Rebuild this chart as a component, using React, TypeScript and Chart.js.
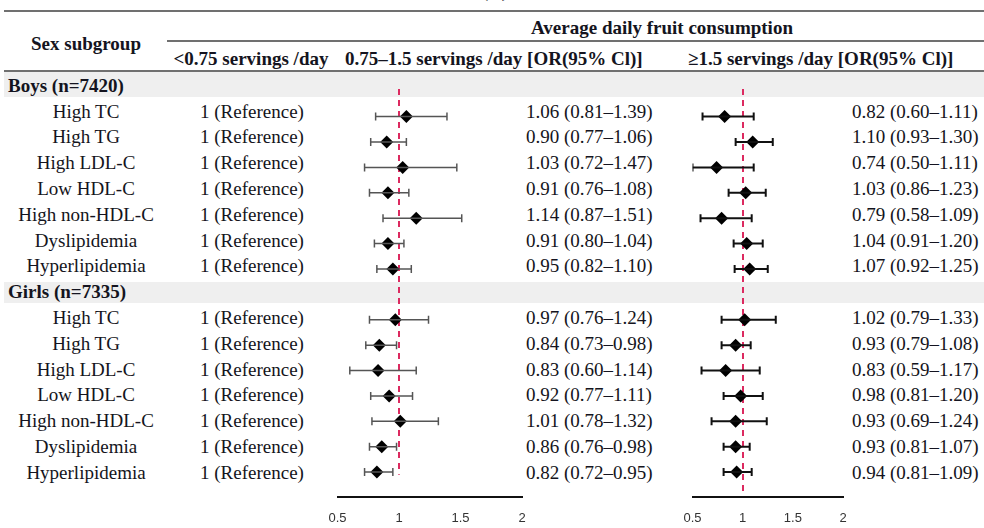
import React, { useEffect, useRef } from "react";
import { Chart, registerables } from "chart.js";
Chart.register(...registerables);

// ---------- data ----------
const subgroups = ["High TC", "High TG", "High LDL-C", "Low HDL-C", "High non-HDL-C", "Dyslipidemia", "Hyperlipidemia"];
const groups = ["Boys (n=7420)", "Girls (n=7335)"];
const columnHeaders = ["<0.75 servings /day", "0.75–1.5 servings /day [OR(95% Cl)]", "≥1.5 servings /day [OR(95% Cl)]"];
const referenceText = "1 (Reference)";
const tickValues = [0.5, 1, 1.5, 2];
const tickLabels = ["0.5", "1", "1.5", "2"];

// 0.75–1.5 servings/day
const boysMidOR = [1.06, 0.90, 1.03, 0.91, 1.14, 0.91, 0.95];
const boysMidLo = [0.81, 0.77, 0.72, 0.76, 0.87, 0.80, 0.82];
const boysMidHi = [1.39, 1.06, 1.47, 1.08, 1.51, 1.04, 1.10];
const girlsMidOR = [0.97, 0.84, 0.83, 0.92, 1.01, 0.86, 0.82];
const girlsMidLo = [0.76, 0.73, 0.60, 0.77, 0.78, 0.76, 0.72];
const girlsMidHi = [1.24, 0.98, 1.14, 1.11, 1.32, 0.98, 0.95];

// >=1.5 servings/day
const boysHighOR = [0.82, 1.10, 0.74, 1.03, 0.79, 1.04, 1.07];
const boysHighLo = [0.60, 0.93, 0.50, 0.86, 0.58, 0.91, 0.92];
const boysHighHi = [1.11, 1.30, 1.11, 1.23, 1.09, 1.20, 1.25];
const girlsHighOR = [1.02, 0.93, 0.83, 0.98, 0.93, 0.93, 0.94];
const girlsHighLo = [0.79, 0.79, 0.59, 0.81, 0.69, 0.81, 0.81];
const girlsHighHi = [1.33, 1.08, 1.17, 1.20, 1.24, 1.07, 1.09];

// ---------- layout ----------
const SERIF = '"Liberation Serif", "Times New Roman", serif';
const SANS = '"Liberation Sans", Arial, sans-serif';
const TEXT = "#141420";
const ROW0 = 84.9;
const ROWH = 25.79;
const PANEL_TOP = 72;
const PANEL_H = 456;
const rowY = (i: number) => ROW0 + ROWH * i;
const boysRows = [1, 2, 3, 4, 5, 6, 7];
const girlsRows = [9, 10, 11, 12, 13, 14, 15];
const fmt = (o: number, l: number, h: number) => `${o.toFixed(2)} (${l.toFixed(2)}–${h.toFixed(2)})`;

type PanelProps = {
  left: number;
  width: number;
  padL: number;
  padR: number;
  or: number[];
  lo: number[];
  hi: number[];
  whiskerColor: string;
  whiskerWidth: number;
  refTop: number;
  refBottom: number;
};

// dashed reference line at OR = 1, positioned via the chart's own scales
function drawRefLine(chart: any, top: number, bottom: number) {
  const { ctx, scales } = chart;
  const x = Math.round(scales.x.getPixelForValue(1));
  const y1 = Math.round(scales.y.getPixelForValue(top));
  const y2 = scales.y.getPixelForValue(bottom);
  ctx.save();
  ctx.fillStyle = "#dc2a60";
  const dash = 6;
  const gap = 5;
  for (let y = y1; y < y2; y += dash + gap) {
    const h = Math.min(dash, y2 - y);
    ctx.fillRect(x - 1, y, 2, h);
  }
  ctx.restore();
}

function Panel(p: PanelProps) {
  const ref = useRef<HTMLCanvasElement>(null);
  useEffect(() => {
    const rows = [...boysRows, ...girlsRows];
    const whiskers: any[] = rows.map((r, i) => ({
      type: "line",
      data: [
        { x: p.lo[i], y: r },
        { x: p.hi[i], y: r },
      ],
      borderColor: p.whiskerColor,
      borderWidth: p.whiskerWidth,
      pointStyle: "line",
      pointRotation: 90,
      pointRadius: 4,
      pointBorderColor: p.whiskerColor,
      pointBorderWidth: p.whiskerWidth,
      pointBackgroundColor: p.whiskerColor,
      showLine: true,
    }));
    const diamonds = {
      type: "scatter",
      data: rows.map((r, i) => ({ x: p.or[i], y: r })),
      pointStyle: "rectRot",
      pointRadius: 6.5,
      backgroundColor: "#000",
      borderColor: "#000",
      borderWidth: 0,
    };
    const chart = new Chart(ref.current as HTMLCanvasElement, {
      type: "scatter",
      data: { datasets: [...whiskers, diamonds] },
      plugins: [
        {
          id: "refLineBelowDiamonds",
          beforeDatasetDraw(c: any, args: any) {
            if (args.index === whiskers.length) drawRefLine(c, p.refTop, p.refBottom);
          },
        },
      ],
      options: {
        animation: false,
        responsive: false,
        events: [],
        plugins: { legend: { display: false }, tooltip: { enabled: false } },
        layout: { padding: { left: p.padL, right: p.padR, top: 0, bottom: 0 } },
        scales: {
          x: {
            type: "linear",
            position: "bottom",
            min: 0.5,
            max: 2,
            afterBuildTicks: (s: any) => {
              s.ticks = tickValues.map((v) => ({ value: v }));
            },
            grid: { display: false, drawTicks: false },
            border: { display: true, color: "#111", width: 2 },
            ticks: {
              font: { family: SANS, size: 13 },
              color: "#333",
              padding: 14,
              maxRotation: 0,
              autoSkip: false,
              callback: (v: number) => {
                const k = tickValues.indexOf(v);
                return k >= 0 ? tickLabels[k] : "";
              },
            },
            afterFit: (s: any) => {
              s.height = 31;
              s.paddingLeft = 0;
              s.paddingRight = 0;
            },
          },
          y: { type: "linear", min: -0.5, max: 15.98, reverse: true, display: false },
        },
      } as any,
    });
    return () => chart.destroy();
  }, []);
  return (
    <canvas
      ref={ref}
      width={p.width}
      height={PANEL_H}
      style={{ position: "absolute", left: p.left, top: PANEL_TOP, width: p.width, height: PANEL_H }}
    />
  );
}

function T(props: { x: number; y: number; text: string; align?: "left" | "center"; bold?: boolean }) {
  const { x, y, text, align = "left", bold = false } = props;
  return (
    <div
      style={{
        position: "absolute",
        left: x,
        top: y,
        transform: align === "center" ? "translate(-50%, -50%)" : "translate(0, -50%)",
        fontFamily: SERIF,
        fontSize: 19,
        lineHeight: 1,
        fontWeight: bold ? "bold" : "normal",
        whiteSpace: "nowrap",
        color: TEXT,
      }}
    >
      {text}
    </div>
  );
}

function HLine(props: { x1: number; x2: number; y: number }) {
  return (
    <div
      style={{
        position: "absolute",
        left: props.x1,
        top: props.y,
        width: props.x2 - props.x1,
        height: 2,
        background: "#707070",
      }}
    />
  );
}

export default function App() {
  const blocks = [
    { rows: boysRows, mOR: boysMidOR, mLo: boysMidLo, mHi: boysMidHi, hOR: boysHighOR, hLo: boysHighLo, hHi: boysHighHi },
    { rows: girlsRows, mOR: girlsMidOR, mLo: girlsMidLo, mHi: girlsMidHi, hOR: girlsHighOR, hLo: girlsHighLo, hHi: girlsHighHi },
  ];
  return (
    <div
      style={{
        position: "fixed",
        left: 0,
        top: 0,
        width: 984,
        height: 528,
        background: "#fff",
        overflow: "hidden",
      }}
    >
      {/* panel title, cut at the top edge */}
      <div
        style={{
          position: "absolute",
          left: 495,
          top: -19,
          transform: "translateX(-50%)",
          fontFamily: SERIF,
          fontSize: 19,
          lineHeight: 1,
          fontWeight: "bold",
          color: TEXT,
        }}
      >
        (A)
      </div>
      <HLine x1={4} x2={984} y={10} />
      <HLine x1={167} x2={984} y={40} />
      <HLine x1={4} x2={984} y={70} />
      {/* group bands */}
      <div style={{ position: "absolute", left: 4, top: 72, width: 980, height: 25, background: "#efefef" }} />
      <div style={{ position: "absolute", left: 4, top: 281.5, width: 980, height: 21.5, background: "#efefef" }} />

      <T x={86} y={43} text="Sex subgroup" align="center" bold />
      <T x={662} y={27} text="Average daily fruit consumption" align="center" bold />
      <T x={251} y={58} text={columnHeaders[0]} align="center" bold />
      <T x={345} y={58} text={columnHeaders[1]} bold />
      <T x={688} y={58} text={columnHeaders[2]} bold />

      {blocks.map((b, bi) => (
        <React.Fragment key={bi}>
          <T x={8} y={rowY(b.rows[0] - 1)} text={groups[bi]} bold />
          {subgroups.map((s, i) => (
            <React.Fragment key={s}>
              <T x={86} y={rowY(b.rows[i])} text={s} align="center" />
              <T x={252} y={rowY(b.rows[i])} text={referenceText} align="center" />
              <T x={526} y={rowY(b.rows[i])} text={fmt(b.mOR[i], b.mLo[i], b.mHi[i])} />
              <T x={852} y={rowY(b.rows[i])} text={fmt(b.hOR[i], b.hLo[i], b.hHi[i])} />
            </React.Fragment>
          ))}
        </React.Fragment>
      ))}

      <Panel
        left={300}
        width={260}
        padL={37.5}
        padR={38}
        or={[...boysMidOR, ...girlsMidOR]}
        lo={[...boysMidLo, ...girlsMidLo]}
        hi={[...boysMidHi, ...girlsMidHi]}
        whiskerColor="#555"
        whiskerWidth={1.5}
        refTop={-0.08}
        refBottom={15.1}
      />
      <Panel
        left={660}
        width={220}
        padL={32.5}
        padR={37}
        or={[...boysHighOR, ...girlsHighOR]}
        lo={[...boysHighLo, ...girlsHighLo]}
        hi={[...boysHighHi, ...girlsHighHi]}
        whiskerColor="#111"
        whiskerWidth={2}
        refTop={-0.1}
        refBottom={15.8}
      />
    </div>
  );
}
